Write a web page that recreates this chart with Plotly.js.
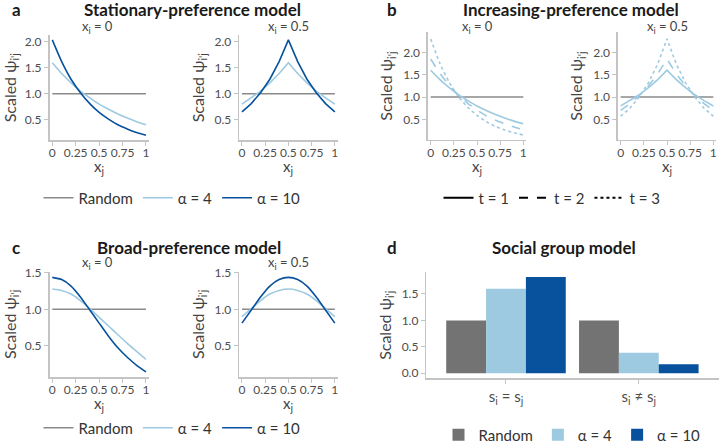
<html lang="en">
  <head>
    <meta charset="UTF-8" />
    <title>Preference models</title>
    <script src="https://cdn.plot.ly/plotly-3.0.1.min.js"></script>
    <style>
      body { margin: 0; background: #fff; }
      #frame { width: 720px; height: 444px; overflow: hidden; }
    </style>
  </head>
  <body>
    <!-- the figure is a bit taller than the window so the bottom legends fit inside the paper -->
    <div id="frame"><div id="chart" style="width: 720px; height: 460px"></div></div>
    <script>
      // x_j positions the curves were read at
      const xj = [0, 0.1, 0.2, 0.3, 0.4, 0.5, 0.6, 0.7, 0.8, 0.9, 1];
      const randomLine = [1, 1, 1, 1, 1, 1, 1, 1, 1, 1, 1];

      // a: stationary-preference model
      const statA4X0 = [1.6, 1.39, 1.21, 1.05, 0.92, 0.8, 0.7, 0.61, 0.53, 0.46, 0.4];
      const statA10X0 = [2.04, 1.62, 1.28, 1.02, 0.81, 0.64, 0.51, 0.4, 0.32, 0.25, 0.2];
      const statA4X05 = [0.8, 0.92, 1.05, 1.21, 1.39, 1.6, 1.39, 1.21, 1.05, 0.92, 0.8];
      const statA10X05 = [0.65, 0.81, 1.02, 1.28, 1.62, 2.04, 1.62, 1.28, 1.02, 0.81, 0.65];

      // b: increasing-preference model (alpha = 4)
      const incT1X0 = [1.6, 1.39, 1.21, 1.05, 0.92, 0.8, 0.7, 0.61, 0.53, 0.46, 0.4];
      const incT2X0 = [1.85, 1.53, 1.26, 1.04, 0.86, 0.71, 0.58, 0.48, 0.4, 0.33, 0.27];
      const incT3X0 = [2.3, 1.75, 1.33, 1.01, 0.77, 0.59, 0.45, 0.34, 0.26, 0.2, 0.15];
      const incT1X05 = [0.8, 0.92, 1.05, 1.21, 1.39, 1.6, 1.39, 1.21, 1.05, 0.92, 0.8];
      const incT2X05 = [0.7, 0.85, 1.03, 1.25, 1.52, 1.85, 1.52, 1.25, 1.03, 0.85, 0.7];
      const incT3X05 = [0.57, 0.75, 1.0, 1.32, 1.74, 2.3, 1.74, 1.32, 1.0, 0.75, 0.57];

      // c: broad-preference model
      const broadA4X0 = [1.28, 1.26, 1.21, 1.12, 1.01, 0.89, 0.77, 0.65, 0.53, 0.42, 0.31];
      const broadA10X0 = [1.44, 1.41, 1.32, 1.17, 0.99, 0.81, 0.63, 0.47, 0.34, 0.23, 0.14];
      const broadA4X05 = [0.9, 1.01, 1.12, 1.21, 1.26, 1.28, 1.26, 1.21, 1.12, 1.01, 0.9];
      const broadA10X05 = [0.81, 0.99, 1.17, 1.32, 1.41, 1.44, 1.41, 1.32, 1.17, 0.99, 0.81];

      // d: social group model
      const groups = ["same", "diff"];
      const groupLabels = ["s<sub>i</sub> = s<sub>j</sub>", "s<sub>i</sub> ≠ s<sub>j</sub>"];
      const socialRandom = [1, 1];
      const socialA4 = [1.6, 0.39];
      const socialA10 = [1.82, 0.17];

      const xTicks = [0, 0.25, 0.5, 0.75, 1];
      const xTickText = ["0", "0.25", "0.5", "0.75", "1"];

      const GREY = "#8a8a8a";
      const GREY_BAR = "#737373";
      const LIGHT = "#9ecae1";
      const DARK = "#08519c";
      const FONT = "Lato, 'Open Sans', sans-serif";

      const W = 720, H = 460;
      const px = (x) => x / W;
      const py = (y) => 1 - y / H;

      const lineTrace = (y, color, xa, ya, name, legend, show, dash) => ({
        x: xj,
        y: y,
        type: "scatter",
        mode: "lines",
        line: { color: color, width: 1.6, shape: "spline", smoothing: 0.6, dash: dash || "solid" },
        xaxis: xa,
        yaxis: ya,
        name: name,
        legend: legend,
        showlegend: show,
        hoverinfo: "skip",
      });
      const peakTrace = (y, color, xa, ya, dash) => ({
        x: xj,
        y: y,
        type: "scatter",
        mode: "lines",
        line: { color: color, width: 1.6, dash: dash || "solid" },
        xaxis: xa,
        yaxis: ya,
        showlegend: false,
        hoverinfo: "skip",
      });
      const keyTrace = (name, dash) => ({
        x: [null],
        y: [null],
        type: "scatter",
        mode: "lines",
        line: { color: "#000", width: 2.2, dash: dash },
        name: name,
        legend: "legend2",
        xaxis: "x3",
        yaxis: "y3",
      });

      const data = [
        // a
        lineTrace(randomLine, GREY, "x", "y", "Random", "legend", true),
        lineTrace(statA4X0, LIGHT, "x", "y", "α = 4", "legend", true),
        lineTrace(statA10X0, DARK, "x", "y", "α = 10", "legend", true),
        peakTrace(randomLine, GREY, "x2", "y2"),
        peakTrace(statA4X05, LIGHT, "x2", "y2"),
        peakTrace(statA10X05, DARK, "x2", "y2"),
        // b
        lineTrace(randomLine, GREY, "x3", "y3", "", "legend2", false),
        lineTrace(incT1X0, LIGHT, "x3", "y3", "", "legend2", false),
        lineTrace(incT2X0, LIGHT, "x3", "y3", "", "legend2", false, "dash"),
        lineTrace(incT3X0, LIGHT, "x3", "y3", "", "legend2", false, "dot"),
        peakTrace(randomLine, GREY, "x4", "y4"),
        peakTrace(incT1X05, LIGHT, "x4", "y4"),
        peakTrace(incT2X05, LIGHT, "x4", "y4", "dash"),
        peakTrace(incT3X05, LIGHT, "x4", "y4", "dot"),
        keyTrace("t = 1", "solid"),
        keyTrace("t = 2", "dash"),
        keyTrace("t = 3", "dot"),
        // c
        lineTrace(randomLine, GREY, "x5", "y5", "Random", "legend3", true),
        lineTrace(broadA4X0, LIGHT, "x5", "y5", "α = 4", "legend3", true),
        lineTrace(broadA10X0, DARK, "x5", "y5", "α = 10", "legend3", true),
        lineTrace(randomLine, GREY, "x6", "y6", "", "legend3", false),
        lineTrace(broadA4X05, LIGHT, "x6", "y6", "", "legend3", false),
        lineTrace(broadA10X05, DARK, "x6", "y6", "", "legend3", false),
        // d
        { x: groups, y: socialRandom, type: "bar", name: "Random", marker: { color: GREY_BAR }, xaxis: "x7", yaxis: "y7", legend: "legend4", hoverinfo: "skip" },
        { x: groups, y: socialA4, type: "bar", name: "α = 4", marker: { color: LIGHT }, xaxis: "x7", yaxis: "y7", legend: "legend4", hoverinfo: "skip" },
        { x: groups, y: socialA10, type: "bar", name: "α = 10", marker: { color: DARK }, xaxis: "x7", yaxis: "y7", legend: "legend4", hoverinfo: "skip" },
      ];

      const axisBase = {
        showline: true,
        linecolor: "#c4c4c4",
        linewidth: 1.5,
        ticks: "outside",
        ticklen: 4,
        tickwidth: 1,
        tickcolor: "#c4c4c4",
        showgrid: false,
        zeroline: false,
        tickangle: 0,
        tickfont: { family: FONT, size: 12, color: "#4d4d4d" },
        fixedrange: true,
      };
      const yTitle = { text: "Scaled ψ<sub>i'j</sub>", font: { family: FONT, size: 16, color: "#444" }, standoff: 6 };

      const xAxis = (l, r, anchor) => ({
        ...axisBase,
        domain: [px(l), px(r)],
        range: [-0.03, 1.03],
        tickvals: xTicks,
        ticktext: xTickText,
        ticklabelstandoff: -3,
        anchor: anchor,
      });
      const yAxis = (top, bottom, range, ticks, anchor) => ({
        ...axisBase,
        domain: [py(bottom), py(top)],
        range: range,
        tickvals: ticks,
        tickformat: ".1f",
        anchor: anchor,
        title: yTitle,
      });

      const legendBase = {
        orientation: "h",
        xanchor: "center",
        yanchor: "middle",
        font: { family: FONT, size: 15, color: "#333" },
        bgcolor: "rgba(0,0,0,0)",
      };

      const ann = (text, x, y, size, bold, anchor) => ({
        text: bold ? "<b>" + text + "</b>" : text,
        x: px(x),
        y: py(y),
        xref: "paper",
        yref: "paper",
        xanchor: anchor || "center",
        yanchor: "middle",
        showarrow: false,
        font: { family: FONT, size: size, color: bold ? "#1a1a1a" : "#444" },
      });

      const layout = {
        width: W,
        height: H,
        margin: { l: 0, r: 0, t: 0, b: 0 },
        paper_bgcolor: "#fff",
        plot_bgcolor: "#fff",
        font: { family: FONT },
        bargap: 0.1,
        bargroupgap: 0,
        xaxis: xAxis(49.5, 148.8, "y"),
        yaxis: yAxis(35.2, 140.1, [0.105, 2.13], [0.5, 1, 1.5, 2], "x"),
        xaxis2: xAxis(239.2, 337.6, "y2"),
        yaxis2: yAxis(35.2, 140.1, [0.105, 2.13], [0.5, 1, 1.5, 2], "x2"),
        xaxis3: xAxis(427.9, 526.1, "y3"),
        yaxis3: yAxis(32.2, 139.9, [0.04, 2.45], [0.5, 1, 1.5, 2], "x3"),
        xaxis4: xAxis(617.9, 716.1, "y4"),
        yaxis4: yAxis(32.2, 139.9, [0.04, 2.45], [0.5, 1, 1.5, 2], "x4"),
        xaxis5: xAxis(49.5, 148.8, "y5"),
        yaxis5: yAxis(271.6, 377.1, [0.067, 1.519], [0.5, 1, 1.5], "x5"),
        xaxis6: xAxis(239.2, 337.6, "y6"),
        yaxis6: yAxis(271.6, 377.1, [0.067, 1.519], [0.5, 1, 1.5], "x6"),
        xaxis7: {
          ...axisBase,
          domain: [px(426.3), px(718.5)],
          range: [-0.6, 1.6],
          type: "category",
          tickvals: groups,
          ticktext: groupLabels,
          tickfont: { family: FONT, size: 15, color: "#4d4d4d" },
          anchor: "y7",
        },
        yaxis7: yAxis(272.2, 378.1, [-0.091, 1.911], [0, 0.5, 1, 1.5], "x7"),
        legend: { ...legendBase, x: px(172), y: py(198) },
        legend2: { ...legendBase, x: px(552), y: py(198) },
        legend3: { ...legendBase, x: px(172), y: py(428) },
        legend4: { ...legendBase, x: px(572), y: py(435) },
        annotations: [
          ann("a", 10, 10, 17, true, "left"),
          ann("Stationary-preference model", 192, 10, 17, true),
          ann("x<sub>i</sub> = 0", 98, 27, 13),
          ann("x<sub>i</sub> = 0.5", 288, 27, 13),
          ann("x<sub>j</sub>", 99, 167, 15),
          ann("x<sub>j</sub>", 288, 167, 15),
          ann("b", 385, 10, 17, true, "left"),
          ann("Increasing-preference model", 571, 10, 17, true),
          ann("x<sub>i</sub> = 0", 477, 27, 13),
          ann("x<sub>i</sub> = 0.5", 667, 27, 13),
          ann("x<sub>j</sub>", 477, 167, 15),
          ann("x<sub>j</sub>", 667, 167, 15),
          ann("c", 10, 247, 17, true, "left"),
          ann("Broad-preference model", 189, 247, 17, true),
          ann("x<sub>i</sub> = 0", 98, 263, 13),
          ann("x<sub>i</sub> = 0.5", 288, 263, 13),
          ann("x<sub>j</sub>", 99, 404, 15),
          ann("x<sub>j</sub>", 288, 404, 15),
          ann("d", 385, 247, 17, true, "left"),
          ann("Social group model", 564, 247, 17, true),
        ],
      };

      Plotly.newPlot("chart", data, layout, { displayModeBar: false, staticPlot: true });
    </script>
  </body>
</html>
